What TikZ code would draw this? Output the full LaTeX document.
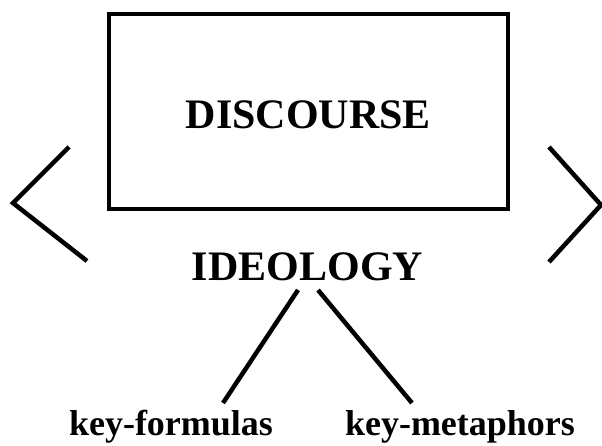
\documentclass[tikz,border=0pt]{standalone}
\usepackage{fontspec}
\setmainfont{Liberation Serif}
\begin{document}
\begin{tikzpicture}[x=1pt,y=-1pt,
  thick line/.style={line width=4.5pt},
  big/.style={font=\bfseries\fontsize{42}{50}\selectfont, inner sep=0pt},
  small/.style={font=\bfseries\fontsize{36}{43}\selectfont, inner sep=0pt, anchor=base},
  frame box/.style={draw, line width=4.5pt, minimum width=399pt, minimum height=195pt, inner sep=0pt, text height=35pt, text depth=0pt}]
\useasboundingbox (0,0) rectangle (602,446);
\node[frame box, big] (disc) at (308.5,111.5) {DISCOURSE};
\node[big] (ideo) at (307.5,267) {IDEOLOGY};
\node[small] (kf) at (171,435) {key-formulas};
\node[small] (km) at (460,435) {key-metaphors};
\coordinate (ideoL) at (298,290);
\coordinate (ideoR) at (318,290);
\coordinate (kfT) at (223,403);
\coordinate (kmT) at (412,403);
\draw[thick line] (ideoL) -- (kfT);
\draw[thick line] (ideoR) -- (kmT);
\coordinate (lt) at (69,147);
\coordinate (lv) at (13,203);
\coordinate (lb) at (87,261);
\coordinate (rt) at (549,147);
\coordinate (rv) at (601,205);
\coordinate (rb) at (549,262);
\draw[thick line] (lt) -- (lv) -- (lb);
\draw[thick line] (rt) -- (rv) -- (rb);
\end{tikzpicture}
\end{document}
